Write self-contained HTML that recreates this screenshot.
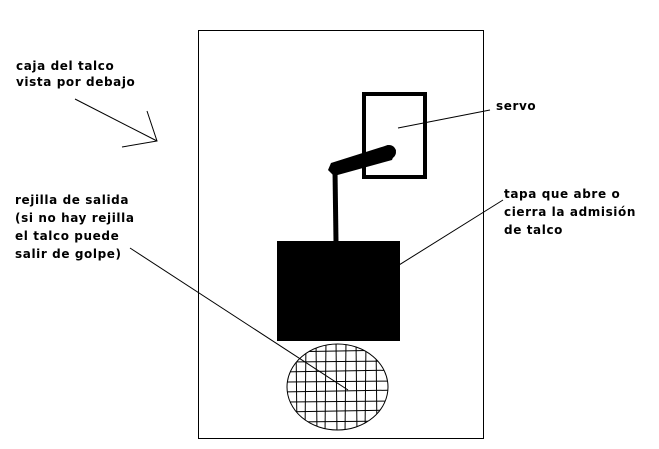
<!DOCTYPE html>
<html><head><style>body{margin:0;background:#fff;}svg{display:block}</style></head><body>
<svg width="659" height="449" xmlns="http://www.w3.org/2000/svg" font-family="'DejaVu Sans', 'Liberation Sans', sans-serif" font-size="12" font-weight="bold" letter-spacing="0.6">
<rect x="0" y="0" width="659" height="449" fill="#fff"/>
<rect x="198.5" y="30.5" width="285" height="408" fill="none" stroke="#000" stroke-width="1"/>
<rect x="364" y="94" width="61" height="83" fill="none" stroke="#000" stroke-width="4"/>
<rect x="277" y="241" width="123" height="100" fill="#000"/>
<line x1="335" y1="170" x2="336" y2="242" stroke="#000" stroke-width="5"/>
<polygon points="331,163 388,145 396,150 392,160 334,176 328,170" fill="#000"/>
<circle cx="389" cy="152" r="7" fill="#000"/>
<ellipse cx="337.5" cy="387" rx="50.5" ry="43" fill="none" stroke="#000" stroke-width="1"/>
<clipPath id="c"><ellipse cx="337.5" cy="387" rx="50.5" ry="43"/></clipPath>
<g clip-path="url(#c)" stroke="#000" stroke-width="1">
<line x1="280" y1="352" x2="400" y2="350"/><line x1="280" y1="362" x2="400" y2="361"/>
<line x1="280" y1="372" x2="400" y2="370"/><line x1="280" y1="382" x2="400" y2="381"/>
<line x1="280" y1="392" x2="400" y2="390"/><line x1="280" y1="402" x2="400" y2="401"/>
<line x1="280" y1="412" x2="400" y2="410"/><line x1="280" y1="422" x2="400" y2="421"/>
<line x1="296" y1="340" x2="297" y2="435"/><line x1="306" y1="340" x2="305" y2="435"/>
<line x1="316" y1="340" x2="317" y2="435"/><line x1="326" y1="340" x2="325" y2="435"/>
<line x1="336" y1="340" x2="337" y2="435"/><line x1="346" y1="340" x2="345" y2="435"/>
<line x1="356" y1="340" x2="357" y2="435"/><line x1="366" y1="340" x2="365" y2="435"/>
<line x1="376" y1="340" x2="377" y2="435"/>
</g>
<g stroke="#000" stroke-width="1" fill="none">
<line x1="398" y1="128" x2="490" y2="110"/>
<line x1="375" y1="280" x2="503" y2="200"/>
<line x1="130" y1="248" x2="348" y2="390"/>
<line x1="75" y1="99" x2="157" y2="141"/>
<polyline points="147,111 157,141 122,147"/>
</g>
<g fill="#000">
<text x="16" y="70">caja del talco</text>
<text x="16" y="86">vista por debajo</text>
<text x="496" y="110">servo</text>
<text x="504" y="198">tapa que abre o</text>
<text x="504" y="216">cierra la admisión</text>
<text x="504" y="234">de talco</text>
<text x="15" y="204">rejilla de salida</text>
<text x="15" y="222">(si no hay rejilla</text>
<text x="15" y="240">el talco puede</text>
<text x="15" y="258">salir de golpe)</text>
</g>
</svg>
</body></html>
